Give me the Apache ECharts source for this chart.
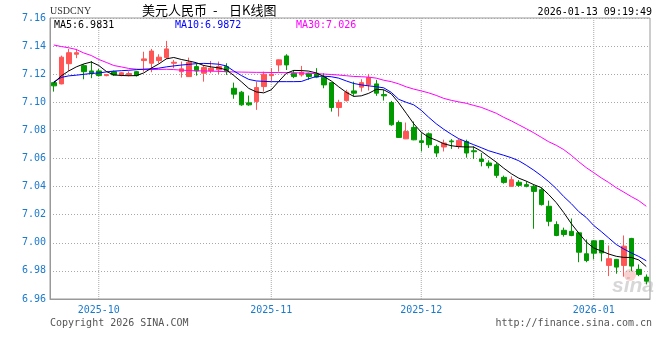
<!DOCTYPE html>
<html>
<head>
<meta charset="utf-8">
<script src="https://cdn.jsdelivr.net/npm/echarts@6/dist/echarts.min.js"></script>
<style>html,body{margin:0;padding:0;background:#fff}#c{width:660px;height:360px}</style>
</head>
<body>
<div id="c"></div>
<script>
const dates = [
'2025-09-23','2025-09-24','2025-09-25','2025-09-26','2025-09-29','2025-09-30',
'2025-10-01','2025-10-02','2025-10-03','2025-10-06','2025-10-07','2025-10-08','2025-10-09','2025-10-10',
'2025-10-13','2025-10-14','2025-10-15','2025-10-16','2025-10-17','2025-10-20','2025-10-21','2025-10-22',
'2025-10-23','2025-10-24','2025-10-27','2025-10-28','2025-10-29','2025-10-30','2025-10-31',
'2025-11-03','2025-11-04','2025-11-05','2025-11-06','2025-11-07','2025-11-10','2025-11-11','2025-11-12',
'2025-11-13','2025-11-14','2025-11-17','2025-11-18','2025-11-19','2025-11-20','2025-11-21','2025-11-24',
'2025-11-25','2025-11-26','2025-11-27','2025-11-28',
'2025-12-01','2025-12-02','2025-12-03','2025-12-04','2025-12-05','2025-12-08','2025-12-09','2025-12-10',
'2025-12-11','2025-12-12','2025-12-15','2025-12-16','2025-12-17','2025-12-18','2025-12-19','2025-12-22',
'2025-12-23','2025-12-24','2025-12-25','2025-12-26','2025-12-29','2025-12-30','2025-12-31',
'2026-01-02','2026-01-05','2026-01-06','2026-01-07','2026-01-08','2026-01-09','2026-01-12','2026-01-13'
];
const openV = [7.1140,7.1131,7.1275,7.1342,7.1261,7.1223,7.1223,7.1190,7.1218,7.1195,
7.1195,7.1218,7.1297,7.1278,7.1297,7.1318,7.1278,7.1218,7.1183,7.1254,
7.1207,7.1223,7.1231,7.1254,7.1100,7.1072,7.0996,7.1005,7.1112,7.1190,
7.1266,7.1330,7.1207,7.1195,7.1207,7.1207,7.1179,7.1140,7.0963,7.1012,
7.1081,7.1108,7.1124,7.1131,7.1055,7.0998,7.0856,7.0740,7.0821,7.0726,
7.0776,7.0686,7.0682,7.0725,7.0686,7.0721,7.0655,7.0596,7.0568,7.0556,
7.0466,7.0402,7.0431,7.0414,7.0402,7.0378,7.0260,7.0130,7.0089,7.0082,
7.0071,6.9922,7.0014,7.0016,6.9839,6.9882,6.9839,7.0031,6.9811,6.9756];
const closeV = [7.1117,7.1321,7.1353,7.1353,7.1218,7.1207,7.1190,7.1197,7.1195,7.1210,
7.1205,7.1190,7.1309,7.1365,7.1321,7.1380,7.1285,7.1238,7.1285,7.1223,
7.1247,7.1243,7.1255,7.1218,7.1058,7.0982,7.0982,7.1105,7.1200,7.1200,
7.1302,7.1266,7.1183,7.1214,7.1183,7.1179,7.1124,7.0963,7.0998,7.1072,
7.1065,7.1140,7.1176,7.1065,7.1046,7.0840,7.0750,7.0792,7.0733,7.0714,
7.0698,7.0639,7.0710,7.0719,7.0729,7.0639,7.0648,7.0579,7.0549,7.0480,
7.0430,7.0449,7.0409,7.0402,7.0366,7.0272,7.0153,7.0052,7.0059,7.0052,
6.9933,6.9874,6.9926,6.9928,6.9887,6.9827,6.9976,6.9834,6.9775,6.9727];
const lowV = [7.1076,7.1128,7.1223,7.1314,7.1164,7.1172,7.1185,7.1185,7.1188,7.1185,
7.1185,7.1183,7.1218,7.1214,7.1278,7.1309,7.1243,7.1176,7.1180,7.1190,
7.1147,7.1207,7.1200,7.1195,7.1025,7.0975,7.0975,7.0946,7.1076,7.1152,
7.1218,7.1230,7.1172,7.1183,7.1160,7.1172,7.1100,7.0934,7.0899,7.1005,
7.1041,7.1076,7.1084,7.1046,7.1012,7.0833,7.0746,7.0738,7.0730,7.0650,
7.0675,7.0611,7.0650,7.0668,7.0668,7.0606,7.0596,7.0544,7.0530,7.0462,
7.0421,7.0400,7.0398,7.0395,7.0100,7.0265,7.0118,7.0047,7.0044,7.0047,
6.9862,6.9862,6.9882,6.9868,6.9763,6.9780,6.9759,6.9798,6.9763,6.9704];
const highV = [7.1145,7.1332,7.1380,7.1380,7.1271,7.1294,7.1237,7.1200,7.1226,7.1215,
7.1220,7.1223,7.1360,7.1380,7.1342,7.1437,7.1302,7.1290,7.1318,7.1278,
7.1266,7.1294,7.1290,7.1278,7.1140,7.1081,7.1048,7.1147,7.1218,7.1243,
7.1305,7.1342,7.1230,7.1259,7.1211,7.1243,7.1207,7.1142,7.1018,7.1089,
7.1147,7.1164,7.1202,7.1160,7.1089,7.1010,7.0870,7.0856,7.0863,7.0780,
7.0785,7.0698,7.0734,7.0738,7.0739,7.0734,7.0686,7.0639,7.0587,7.0572,
7.0478,7.0473,7.0446,7.0438,7.0414,7.0393,7.0300,7.0153,7.0108,7.0173,
7.0078,7.0024,7.0018,7.0018,6.9981,6.9885,7.0052,7.0035,6.9846,6.9775];
const ma5 = [7.1138,7.1188,7.1223,7.1252,7.1273,7.1287,7.1262,7.1220,7.1195,7.1191,
7.1189,7.1190,7.1209,7.1243,7.1273,7.1309,7.1319,7.1305,7.1294,7.1282,
7.1262,7.1252,7.1245,7.1231,7.1191,7.1147,7.1099,7.1074,7.1067,7.1089,
7.1149,7.1206,7.1227,7.1226,7.1222,7.1209,7.1184,7.1152,7.1110,7.1071,
7.1042,7.1046,7.1064,7.1092,7.1089,7.1060,7.0996,7.0922,7.0847,7.0787,
7.0751,7.0730,7.0705,7.0691,7.0684,7.0682,7.0682,7.0652,7.0613,7.0574,
7.0531,7.0492,7.0460,7.0439,7.0414,7.0393,7.0343,7.0286,7.0215,7.0137,
7.0069,7.0006,6.9963,6.9942,6.9920,6.9904,6.9896,6.9896,6.9878,6.9831];
const ma10 = [7.1145,7.1177,7.1188,7.1193,7.1199,7.1205,7.1209,7.1216,7.1222,7.1225,
7.1228,7.1232,7.1236,7.1238,7.1243,7.1252,7.1259,7.1265,7.1270,7.1275,
7.1277,7.1275,7.1271,7.1259,7.1223,7.1191,7.1163,7.1152,7.1149,7.1147,
7.1147,7.1147,7.1147,7.1148,7.1167,7.1184,7.1186,7.1182,7.1172,7.1152,
7.1134,7.1124,7.1117,7.1111,7.1103,7.1071,7.1021,7.1000,7.0982,7.0943,
7.0893,7.0847,7.0808,7.0773,7.0741,7.0719,7.0698,7.0677,7.0655,7.0639,
7.0623,7.0606,7.0584,7.0552,7.0517,7.0478,7.0435,7.0386,7.0329,7.0279,
7.0222,7.0180,7.0123,7.0080,7.0034,6.9988,6.9956,6.9928,6.9903,6.9872];
const ma30 = [7.1408,7.1397,7.1388,7.1376,7.1351,7.1333,7.1305,7.1284,7.1262,7.1252,
7.1241,7.1236,7.1233,7.1233,7.1234,7.1235,7.1233,7.1229,7.1226,7.1224,
7.1223,7.1222,7.1220,7.1218,7.1216,7.1215,7.1214,7.1213,7.1213,7.1212,
7.1212,7.1211,7.1210,7.1209,7.1206,7.1204,7.1201,7.1198,7.1194,7.1189,
7.1184,7.1182,7.1179,7.1172,7.1157,7.1147,7.1131,7.1110,7.1094,7.1081,
7.1067,7.1049,7.1028,7.1014,7.1003,7.0993,7.0978,7.0964,7.0943,7.0922,
7.0893,7.0868,7.0840,7.0812,7.0783,7.0751,7.0719,7.0694,7.0663,7.0623,
7.0577,7.0535,7.0499,7.0462,7.0429,7.0392,7.0361,7.0329,7.0300,7.0260];
const monthLabels = ['2025-10','2025-11','2025-12','2026-01'];
const yMin = 6.96, yMax = 7.16, yStep = 0.02;
const symbolName = 'USDCNY';
const titleParts = ['美元人民币', '-', '日K线图'];
const stamp = '2026-01-13 09:19:49';

const MONO = '"DejaVu Sans Mono", "Liberation Mono", monospace';
const BLUE = '#1a7acc';
const UP = '#ff5555', DOWN = '#009900';
const GRIDC = '#a8a8a8';

const monthStartIdx = monthLabels.map(m => dates.findIndex(d => d.slice(0,7) === m));
const monthSet = new Set(monthStartIdx);
const kData = dates.map((d, i) => [openV[i], closeV[i], lowV[i], highV[i]]);
const last = a => a[a.length - 1];

// one vertical guide per month start, drawn through the axes as a 2-point line
const monthLineSeries = monthStartIdx.map(i => ({
  type: 'line', name: 'm' + i,
  data: [{value: [dates[i], yMin]}, {value: [dates[i], yMax]}],
  symbol: 'none', showSymbol: false, silent: true, clip: false,
  lineStyle: {color: GRIDC, width: 1, type: 'dotted'}, z: 1
}));

const chart = echarts.init(document.getElementById('c'), null, {renderer: 'canvas'});
chart.setOption({
  animation: false,
  backgroundColor: '#fff',
  grid: {left: 50, right: 10, top: 18, bottom: 61, show: true, borderColor: '#999', borderWidth: 1, backgroundColor: 'transparent'},
  xAxis: [{
    type: 'category', data: dates, boundaryGap: true,
    axisLine: {show: true, lineStyle: {color: '#999'}},
    axisTick: {show: false},
    splitLine: {show: false},
    axisLabel: {
      interval: (idx) => monthSet.has(idx),
      formatter: (v) => v.slice(0, 7),
      color: BLUE, fontFamily: MONO, fontSize: 10, margin: 6
    }
  }],
  yAxis: [{
    type: 'value', min: yMin, max: yMax, interval: yStep,
    axisLine: {show: true, lineStyle: {color: '#999'}},
    axisTick: {show: false},
    axisLabel: {formatter: v => v.toFixed(2), color: BLUE, fontFamily: MONO, fontSize: 10, margin: 4},
    splitLine: {show: true, lineStyle: {color: GRIDC, type: [1, 2], width: 1}}
  }],
  series: [
    {
      type: 'candlestick', data: kData, barWidth: 5,
      itemStyle: {color: UP, color0: DOWN, borderColor: UP, borderColor0: DOWN, borderWidth: 1},
      z: 2
    },
    {type: 'line', data: ma30, showSymbol: false, symbol: 'none', lineStyle: {color: '#ff00ff', width: 1}, z: 3},
    {type: 'line', data: ma10, showSymbol: false, symbol: 'none', lineStyle: {color: '#0000ff', width: 1}, z: 3},
    {type: 'line', data: ma5, showSymbol: false, symbol: 'none', lineStyle: {color: '#000', width: 1}, z: 3}
  ].concat(monthLineSeries),
  graphic: [
    {type: 'text', left: 50, top: 6, style: {text: symbolName, font: '10px "Liberation Serif", serif', fill: '#333'}},
    {type: 'text', left: 142, top: 4, style: {text: titleParts[0], font: '13px "Noto Sans CJK SC"', fill: '#000'}},
    {type: 'text', left: 213, top: 4, style: {text: titleParts[1], font: '13px "Noto Sans CJK SC"', fill: '#000'}},
    {type: 'text', left: 229, top: 4, style: {text: titleParts[2], font: '13px "Noto Sans CJK SC"', fill: '#000'}},
    {type: 'text', right: 8, top: 7, style: {text: stamp, font: '10px ' + MONO, fill: '#000'}},
    {type: 'text', left: 54, top: 20, style: {text: 'MA5:' + last(ma5).toFixed(4), font: '10px ' + MONO, fill: '#000'}},
    {type: 'text', left: 175, top: 20, style: {text: 'MA10:' + last(ma10).toFixed(4), font: '10px ' + MONO, fill: '#0000ff'}},
    {type: 'text', left: 296, top: 20, style: {text: 'MA30:' + last(ma30).toFixed(3), font: '10px ' + MONO, fill: '#ff00ff'}},
    {type: 'text', left: 50, top: 318, style: {text: 'Copyright 2026 SINA.COM', font: '10px ' + MONO, fill: '#555'}},
    {type: 'text', right: 8, top: 318, style: {text: 'http://finance.sina.com.cn', font: '10px ' + MONO, fill: '#555'}},
    {type: 'text', left: 612, top: 276, z: 0, style: {text: 'sina', font: 'italic bold 21px "Liberation Sans"', fill: 'rgba(175,175,175,0.5)'}},
    {type: 'circle', left: 624, top: 269, z: 0, shape: {r: 6}, style: {fill: 'rgba(240,140,140,0.4)'}}
  ]
});
</script>
</body>
</html>
